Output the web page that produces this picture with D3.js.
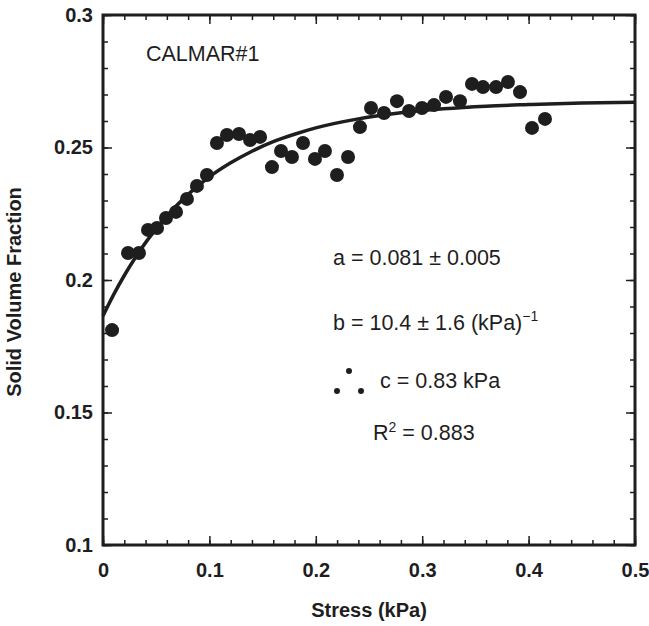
<!DOCTYPE html>
<html>
<head>
<meta charset="utf-8">
<script src="https://cdn.jsdelivr.net/npm/d3@7"></script>
<style>
  body { margin: 0; background: #fff; }
  svg { font-family: "Liberation Sans", Arial, Helvetica, sans-serif; }
</style>
</head>
<body>
<div id="graph"></div>
<script>
const width = 649, height = 626;
const margin = {top: 15, right: 14, bottom: 81, left: 103};

// measured points (stress kPa, solid volume fraction)
const stress = [0.0085,0.0235,0.0338,0.0423,0.0508,0.0592,0.0686,0.0789,0.0883,0.0977,
  0.1071,0.1165,0.1278,0.1382,0.1476,0.1588,0.1673,0.1776,0.1880,0.1992,
  0.2086,0.2199,0.2303,0.2415,0.2519,0.2641,0.2763,0.2876,0.2998,0.3111,
  0.3224,0.3355,0.3468,0.3571,0.3694,0.3806,0.3919,0.4032,0.4154];
const fraction = [0.1811,0.2102,0.2102,0.2189,0.2196,0.2234,0.2257,0.2306,0.2355,0.2396,
  0.2517,0.2547,0.2551,0.2528,0.2540,0.2426,0.2487,0.2464,0.2517,0.2457,
  0.2487,0.2396,0.2464,0.2577,0.2649,0.2630,0.2675,0.2638,0.2649,0.2660,
  0.2691,0.2675,0.2740,0.2728,0.2728,0.2747,0.2709,0.2574,0.2608];

// fitted curve
const curveX = [0,0.01,0.02,0.03,0.04,0.05,0.06,0.08,0.10,0.12,0.14,0.16,0.18,0.20,0.24,0.28,0.32,0.36,0.40,0.45,0.50];
const curveY = [0.1865,0.1945,0.2017,0.2082,0.2141,0.2193,0.2241,0.2323,0.2389,0.2442,0.2486,0.2522,0.2550,0.2574,0.2608,0.2631,0.2646,0.2656,0.2662,0.2668,0.2671];

const xTicks = [0,0.1,0.2,0.3,0.4,0.5];
const xTickLabels = ["0","0.1","0.2","0.3","0.4","0.5"];
const yTicks = [0.1,0.15,0.2,0.25,0.3];
const yTickLabels = ["0.1","0.15","0.2","0.25","0.3"];

const x = d3.scaleLinear().domain([0,0.5]).range([margin.left, width - margin.right]);
const y = d3.scaleLinear().domain([0.1,0.3]).range([height - margin.bottom, margin.top]);

const svg = d3.select("#graph").append("svg")
    .attr("width", width)
    .attr("height", height);

const ink = "#1e1e1e";
const xMinor = d3.range(0, 0.5001, 0.02);
const yMinor = d3.range(0.1, 0.3001, 0.01);

function styleAxis(g) {
  g.select(".domain").remove();
  g.selectAll(".tick line").attr("stroke", ink).attr("stroke-width", 1.5);
}

// bottom
svg.append("g").attr("transform", `translate(0,${y(0.1)})`)
  .call(d3.axisBottom(x).tickValues(xMinor).tickSize(-5).tickFormat(""))
  .call(styleAxis);
svg.append("g").attr("transform", `translate(0,${y(0.1)})`)
  .call(d3.axisBottom(x).tickValues(xTicks).tickSize(-9).tickPadding(18)
    .tickFormat((d,i) => xTickLabels[i]))
  .call(styleAxis)
  .selectAll("text").attr("fill", ink).style("font-size", "20px").style("font-weight", "bold");
// top
svg.append("g").attr("transform", `translate(0,${y(0.3)})`)
  .call(d3.axisTop(x).tickValues(xMinor).tickSize(-5).tickFormat(""))
  .call(styleAxis);
svg.append("g").attr("transform", `translate(0,${y(0.3)})`)
  .call(d3.axisTop(x).tickValues(xTicks).tickSize(-9).tickFormat(""))
  .call(styleAxis);
// left
svg.append("g").attr("transform", `translate(${x(0)},0)`)
  .call(d3.axisLeft(y).tickValues(yMinor).tickSize(-5).tickFormat(""))
  .call(styleAxis);
svg.append("g").attr("transform", `translate(${x(0)},0)`)
  .call(d3.axisLeft(y).tickValues(yTicks).tickSize(-9)
    .tickFormat((d,i) => yTickLabels[i]))
  .call(styleAxis)
  .selectAll("text").attr("fill", ink).attr("x", -10).style("font-size", "20px").style("font-weight", "bold");
// right
svg.append("g").attr("transform", `translate(${x(0.5)},0)`)
  .call(d3.axisRight(y).tickValues(yMinor).tickSize(-5).tickFormat(""))
  .call(styleAxis);
svg.append("g").attr("transform", `translate(${x(0.5)},0)`)
  .call(d3.axisRight(y).tickValues(yTicks).tickSize(-9).tickFormat(""))
  .call(styleAxis);

// frame
svg.append("rect")
  .attr("x", x(0)).attr("y", y(0.3))
  .attr("width", x(0.5) - x(0)).attr("height", y(0.1) - y(0.3))
  .attr("fill", "none").attr("stroke", ink).attr("stroke-width", 3);

// fit curve
const line = d3.line().x(d => x(d[0])).y(d => y(d[1])).curve(d3.curveMonotoneX);
svg.append("path")
  .datum(curveX.map((v,i) => [v, curveY[i]]))
  .attr("d", line)
  .attr("fill", "none").attr("stroke", ink).attr("stroke-width", 3.5);

// data points
svg.append("g").selectAll("circle")
  .data(stress.map((v,i) => [v, fraction[i]]))
  .join("circle")
    .attr("cx", d => x(d[0]))
    .attr("cy", d => y(d[1]))
    .attr("r", 7)
    .attr("fill", ink);

// axis titles
svg.append("text")
  .attr("x", (x(0) + x(0.5)) / 2).attr("y", 617)
  .attr("text-anchor", "middle")
  .style("font-size", "20px").style("font-weight", "bold").attr("fill", ink)
  .text("Stress (kPa)");
svg.append("text")
  .attr("transform", `translate(21,292) rotate(-90)`)
  .attr("text-anchor", "middle")
  .style("font-size", "20px").style("font-weight", "bold").attr("fill", ink)
  .text("Solid Volume Fraction");

// annotations
const ann = svg.append("g").attr("fill", ink).style("font-size", "21.5px");
ann.append("text").attr("x", 146).attr("y", 61).text("CALMAR#1");
ann.append("text").attr("x", 333).attr("y", 265).text("a = 0.081 ± 0.005");
const bt = ann.append("text").attr("x", 333).attr("y", 330).text("b = 10.4 ± 1.6 (kPa)");
bt.append("tspan").attr("dy", -9).style("font-size", "14px").text("−1");
ann.append("text").attr("x", 380).attr("y", 388).text("c = 0.83 kPa");
const rt = ann.append("text").attr("x", 373).attr("y", 440).text("R");
rt.append("tspan").attr("dy", -8).style("font-size", "14px").text("2");
rt.append("tspan").attr("dy", 8).text(" = 0.883");

// "therefore" mark beside c
const marks = [[337,391],[349,371],[361,391]];
svg.append("g").selectAll("circle").data(marks).join("circle")
  .attr("cx", d => d[0]).attr("cy", d => d[1]).attr("r", 3).attr("fill", ink);
</script>
</body>
</html>
